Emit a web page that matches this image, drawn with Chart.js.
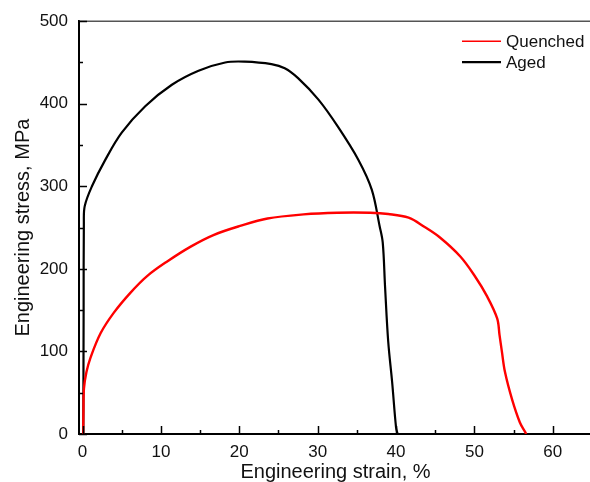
<!DOCTYPE html>
<html>
<head>
<meta charset="utf-8">
<script src="https://cdn.jsdelivr.net/npm/chart.js@4/dist/chart.umd.min.js"></script>
<style>
    html, body { margin: 0; padding: 0; background: #fff; overflow: hidden; }
    #wrap { width: 590px; height: 482px; overflow: hidden; }
</style>
</head>
<body>
<div id="wrap"><canvas id="stressChart" width="600" height="486"></canvas></div>
<script>
// Tensile curves: engineering strain (%) vs engineering stress (MPa)
const quenchedStrain = [0.08, 0.12, 0.18, 0.5, 1.0, 2.3, 4.0, 6.1, 8.2, 10.8, 13.8, 16.7, 20.1, 23.6, 28.2, 32.5, 36.7, 39.0, 41.6, 43.6, 45.6, 48.2, 50.0, 51.6, 52.9, 53.2, 53.5, 53.9, 54.8, 55.8, 56.5, 56.6];
const quenchedStress = [0, 30, 55, 75, 92, 122, 147, 171, 191, 209, 227, 241, 252, 261, 266, 268, 268, 266.5, 262, 251, 238, 215, 192, 167, 140, 120, 100, 75, 42, 14, 2, 0];

const agedStrain = [0.1, 0.14, 0.17, 0.28, 1.2, 2.9, 5.0, 8.0, 11.4, 14.8, 18.2, 20.7, 24.1, 25.8, 27.5, 30.1, 32.6, 35.2, 36.9, 37.9, 38.3, 38.6, 39.0, 39.5, 40.0, 40.2];
const agedStress = [0, 150, 255, 276, 300, 332, 365, 397, 423, 440, 450, 451, 448, 443, 431, 405, 372, 332, 296, 252, 232, 178, 112, 63, 8, 0];

const seriesNames = ['Quenched', 'Aged'];
const seriesColors = ['#ff0000', '#000000'];

// Axis ticks
const xMajorTicks = [0, 10, 20, 30, 40, 50, 60];
const xMinorTicks = [5, 15, 25, 35, 45, 55, 65];
const yMajorTicks = [0, 100, 200, 300, 400, 500];
const yMinorTicks = [50, 150, 250, 350, 450];

const FONT = '"Liberation Sans", Arial, sans-serif';

function toPoints(xs, ys) {
    return xs.map((x, i) => ({ x: x, y: ys[i] }));
}

// Inward ticks, top frame line
const frameTicks = {
    id: 'frameTicks',
    afterDraw(chart) {
        const { ctx, chartArea: a, scales: { x, y } } = chart;
        ctx.save();
        ctx.strokeStyle = '#555';
        ctx.lineWidth = 1.5;
        ctx.beginPath();
        ctx.moveTo(a.left, a.top);
        ctx.lineTo(a.right + 10, a.top);
        ctx.stroke();

        ctx.strokeStyle = '#000';
        ctx.lineWidth = 1.5;
        const xTick = (v, len) => {
            const px = Math.round(x.getPixelForValue(v)) + 0.5;
            ctx.beginPath();
            ctx.moveTo(px, a.bottom);
            ctx.lineTo(px, a.bottom - len);
            ctx.stroke();
        };
        const yTick = (v, len) => {
            const py = Math.round(y.getPixelForValue(v)) + 0.5;
            ctx.beginPath();
            ctx.moveTo(a.left, py);
            ctx.lineTo(a.left + len, py);
            ctx.stroke();
        };
        xMajorTicks.forEach(v => xTick(v, 8));
        xMinorTicks.forEach(v => xTick(v, 4));
        yMajorTicks.forEach(v => yTick(v, 8));
        yMinorTicks.forEach(v => yTick(v, 4));
        ctx.restore();
    }
};

// Legend drawn inside the plot, upper right
const innerLegend = {
    id: 'innerLegend',
    afterDraw(chart) {
        const { ctx, chartArea: a } = chart;
        ctx.save();
        ctx.font = '17px ' + FONT;
        ctx.textBaseline = 'middle';
        ctx.textAlign = 'left';
        chart.data.datasets.forEach((ds, i) => {
            const ly = a.top + 20 + i * 21;
            ctx.strokeStyle = ds.borderColor;
            ctx.lineWidth = i === 0 ? 1.6 : 2.2;
            ctx.beginPath();
            ctx.moveTo(a.right - 130, ly);
            ctx.lineTo(a.right - 91, ly);
            ctx.stroke();
            ctx.fillStyle = '#111';
            ctx.fillText(ds.label, a.right - 86, ly + 1);
        });
        ctx.restore();
    }
};

const ctx = document.getElementById('stressChart');

new Chart(ctx, {
    type: 'line',
    data: {
        datasets: [
            {
                label: seriesNames[0],
                data: toPoints(quenchedStrain, quenchedStress),
                borderColor: seriesColors[0],
                borderWidth: 2.4,
                pointRadius: 0,
                tension: 0.35
            },
            {
                label: seriesNames[1],
                data: toPoints(agedStrain, agedStress),
                borderColor: seriesColors[1],
                borderWidth: 2.2,
                pointRadius: 0,
                tension: 0.35
            }
        ]
    },
    options: {
        responsive: false,
        animation: false,
        layout: { padding: { top: 21, right: 8, left: 0, bottom: 0 } },
        plugins: {
            legend: { display: false },
            tooltip: { enabled: false }
        },
        scales: {
            x: {
                type: 'linear',
                min: -0.45,
                max: 65,
                afterFit: s => { s.height = 52; },
                afterBuildTicks: s => { s.ticks = xMajorTicks.map(v => ({ value: v })); },
                grid: { display: false, drawTicks: false },
                border: { display: true, color: '#000', width: 2 },
                ticks: {
                    padding: 8,
                    color: '#111',
                    font: { family: FONT, size: 17 },
                    maxRotation: 0
                },
                title: {
                    display: true,
                    text: 'Engineering strain, %',
                    color: '#111',
                    font: { family: FONT, size: 20 },
                    padding: { top: 0, bottom: 2 }
                }
            },
            y: {
                type: 'linear',
                min: 0,
                max: 500,
                afterFit: s => { s.width = 79; },
                afterBuildTicks: s => { s.ticks = yMajorTicks.map(v => ({ value: v })); },
                grid: { display: false, drawTicks: false },
                border: { display: true, color: '#000', width: 2 },
                ticks: {
                    padding: 11,
                    color: '#111',
                    font: { family: FONT, size: 17 }
                },
                title: {
                    display: true,
                    text: 'Engineering stress, MPa',
                    color: '#111',
                    font: { family: FONT, size: 20 },
                    padding: { top: 11, bottom: 0 }
                }
            }
        }
    },
    plugins: [frameTicks, innerLegend]
});
</script>
</body>
</html>
